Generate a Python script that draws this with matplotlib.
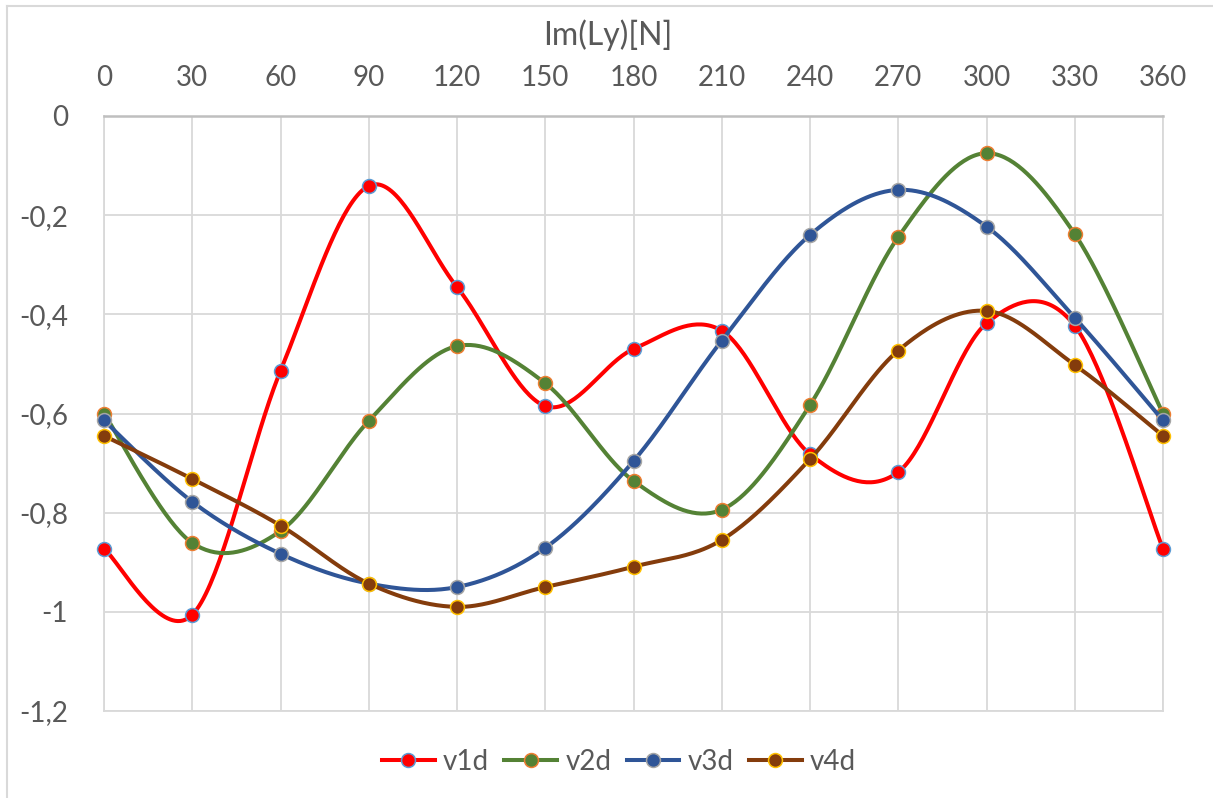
import numpy as np
import matplotlib
matplotlib.use("Agg")
import matplotlib.pyplot as plt
from matplotlib.lines import Line2D
from matplotlib.ticker import FuncFormatter

# Angle positions (degrees)
angles = [0, 30, 60, 90, 120, 150, 180, 210, 240, 270, 300, 330, 360]

# Im(Ly) values in N for each case
v1d = [-0.873, -1.006, -0.514, -0.141, -0.345, -0.585, -0.470, -0.433,
       -0.682, -0.718, -0.418, -0.423, -0.873]
v2d = [-0.600, -0.861, -0.837, -0.615, -0.464, -0.539, -0.736, -0.794,
       -0.583, -0.244, -0.075, -0.238, -0.600]
v3d = [-0.614, -0.778, -0.883, -0.943, -0.950, -0.871, -0.696, -0.453,
       -0.240, -0.149, -0.223, -0.407, -0.614]
v4d = [-0.645, -0.732, -0.826, -0.943, -0.990, -0.950, -0.909, -0.855,
       -0.692, -0.473, -0.393, -0.502, -0.645]

series_names = ["v1d", "v2d", "v3d", "v4d"]
line_colors = ["#ff0000", "#548235", "#2f5597", "#843c0c"]
edge_colors = ["#5b9bd5", "#ed7d31", "#a5a5a5", "#ffc000"]

x_ticks = angles
y_ticks = [0, -0.2, -0.4, -0.6, -0.8, -1.0, -1.2]

TEXT = "#595959"
FONT = ["Lato", "DejaVu Sans"]
plt.rcParams["font.family"] = FONT


def smooth_curve(x, y, n=40):
    """Catmull-Rom style cubic Bezier smoothing through every point."""
    x = np.asarray(x, float)
    y = np.asarray(y, float)
    pts = np.column_stack([x, y])
    ext = np.vstack([pts[0], pts, pts[-1]])
    out = []
    t = np.linspace(0, 1, n)[:, None]
    for i in range(1, len(ext) - 2):
        p0, p1, p2, p3 = ext[i - 1], ext[i], ext[i + 1], ext[i + 2]
        c1 = p1 + (p2 - p0) / 6.0
        c2 = p2 - (p3 - p1) / 6.0
        seg = ((1 - t) ** 3) * p1 + 3 * ((1 - t) ** 2) * t * c1 \
            + 3 * (1 - t) * (t ** 2) * c2 + (t ** 3) * p2
        out.append(seg if i == 1 else seg[1:])
    res = np.vstack(out)
    return res[:, 0], res[:, 1]


def general_format(v, pos):
    """Decimal comma, no trailing zeros."""
    s = f"{v:.1f}".rstrip("0").rstrip(".")
    if s in ("-0", ""):
        s = "0"
    return s.replace(".", ",")


fig = plt.figure(figsize=(12.13, 7.98), dpi=100)
ax = fig.add_axes([104 / 1213, 1 - 711 / 798, (1163 - 104) / 1213, (711 - 116) / 798])

ax.set_xlim(0, 360)
ax.set_ylim(-1.2, 0)
ax.set_xticks(x_ticks)
ax.set_yticks(y_ticks)
ax.yaxis.set_major_formatter(FuncFormatter(general_format))
ax.xaxis.tick_top()
ax.tick_params(axis="both", length=0, labelsize=20, colors=TEXT)
ax.tick_params(axis="x", pad=18)
ax.tick_params(axis="y", pad=26)

ax.grid(True, color="#d9d9d9", linewidth=1.3)
ax.set_axisbelow(True)
for side in ["left", "right", "bottom"]:
    ax.spines[side].set_color("#d9d9d9")
    ax.spines[side].set_linewidth(1.3)
ax.spines["top"].set_color("#bfbfbf")
ax.spines["top"].set_linewidth(1.8)

all_series = [v1d, v2d, v3d, v4d]
handles = []
for k, (name, vals, lc, ec) in enumerate(zip(series_names, all_series, line_colors, edge_colors)):
    sx, sy = smooth_curve(angles, vals)
    ax.plot(sx, sy, color=lc, linewidth=2.9, zorder=3 + 2 * k,
            solid_capstyle="round", clip_on=False)
    ax.plot(angles, vals, linestyle="none", marker="o", markersize=10,
            markerfacecolor=lc, markeredgecolor=ec, markeredgewidth=1.1,
            zorder=4 + 2 * k, clip_on=False)
    handles.append(Line2D([0], [0], color=lc, linewidth=2.9, marker="o",
                          markersize=10, markerfacecolor=lc,
                          markeredgecolor=ec, markeredgewidth=1.1))

fig.text(608 / 1213, 1 - 35 / 798, "Im(Ly)[N]", ha="center", va="center",
         fontsize=23, color=TEXT)

fig.legend(handles, series_names, loc="center", bbox_to_anchor=(619 / 1213, 1 - 762 / 798),
           ncol=4, frameon=False, fontsize=20, handlelength=1.9,
           handletextpad=0.3, columnspacing=0.55, labelcolor=TEXT)

# Chart area border (top and left edges)
fig.add_artist(Line2D([7 / 1213, 7 / 1213], [0, 1 - 6 / 798], transform=fig.transFigure,
                      color="#d9d9d9", linewidth=1.5))
fig.add_artist(Line2D([7 / 1213, 1], [1 - 6 / 798, 1 - 6 / 798], transform=fig.transFigure,
                      color="#d9d9d9", linewidth=1.5))

fig.savefig("out.png", dpi=100, facecolor="white")
